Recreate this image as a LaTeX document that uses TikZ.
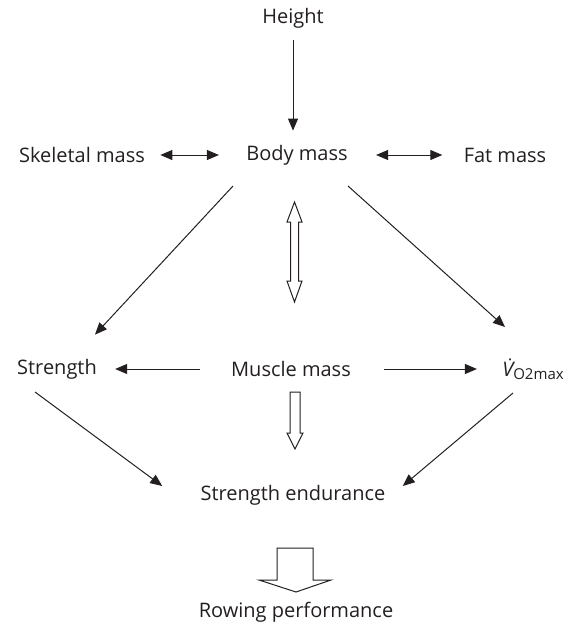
\documentclass[tikz,border=0pt]{standalone}
\usepackage{fontspec}
\setmainfont{Open Sans}
\usetikzlibrary{arrows.meta,calc}
\definecolor{ink}{HTML}{231F20}
\begin{document}
\begin{tikzpicture}[x=0.5pt,y=-0.5pt,
  lbl/.style={inner sep=0pt,text=ink,font=\fontsize{10}{12}\selectfont},
  conn/.style={line width=0.5pt,color=ink,-{Triangle[length=6pt,width=5pt]}},
  dconn/.style={line width=0.5pt,color=ink,{Triangle[length=6pt,width=5pt]}-{Triangle[length=6pt,width=5pt]}},
  hollow/.style={draw=ink,line width=0.5pt,fill=white,line join=miter}]
\useasboundingbox (0,0) rectangle (575,626);
\node[lbl] (height) at (293,18) {Height};
\node[lbl] (body) at (297,155) {Body mass};
\node[lbl] (skel) at (82,155) {Skeletal mass};
\node[lbl] (fat) at (505,155) {Fat mass};
\node[lbl] (strength) at (57,369) {Strength};
\node[lbl] (muscle) at (291,369) {Muscle mass};
\node[lbl] (vo2) at (533,369) {{\itshape\.V}\raisebox{-1.4pt}{\fontsize{7.5}{9}\selectfont O2max}};
\node[lbl] (se) at (293,495) {Strength endurance};
\node[lbl] (rp) at (296,612) {Rowing performance};
% connectors
\draw[conn] ($(height.south)+(0,12)$) -- ($(height.south)!1!(height.south |- body.north)+(0,-14)$);
\draw[dconn] ($(skel.east)+(15,0)$) -- ($(body.west)+(-27,0)$);
\draw[dconn] ($(body.east)+(28,0)$) -- ($(fat.west)+(-21,0)$);
\coordinate (b1) at (233,186);
\coordinate (b2) at (348,186);
\coordinate (s1) at (35,392);
\coordinate (v1) at (513,393);
\draw[conn] (b1) -- ($(strength.north)+(38,-24)$);
\draw[conn] (b2) -- ($(vo2.north)+(-28,-31)$);
\draw[conn] ($(muscle.west)+(-31,0)$) -- ($(strength.east)+(18,0)$);
\draw[conn] ($(muscle.east)+(33,0)$) -- ($(vo2.west)+(-25,0)$);
\draw[conn] (s1) -- ($(se.west)+(-38,-9)$);
\draw[conn] (v1) -- ($(se.east)+(17,-9)$);
% hollow arrows
\draw[hollow] (294.5,202) -- (302,222) -- (298.5,222) -- (298.5,281) -- (302,281) -- (294.5,302)
  -- (287,281) -- (290.5,281) -- (290.5,222) -- (287,222) -- cycle;
\draw[hollow] (290,392) -- (300,392) -- (300,433) -- (303,433) -- (295,449) -- (287,433) -- (290,433) -- cycle;
\draw[hollow] (277,548) -- (313,548) -- (313,580) -- (331,580) -- (296,592) -- (259,580) -- (277,580) -- cycle;
\end{tikzpicture}
\end{document}
